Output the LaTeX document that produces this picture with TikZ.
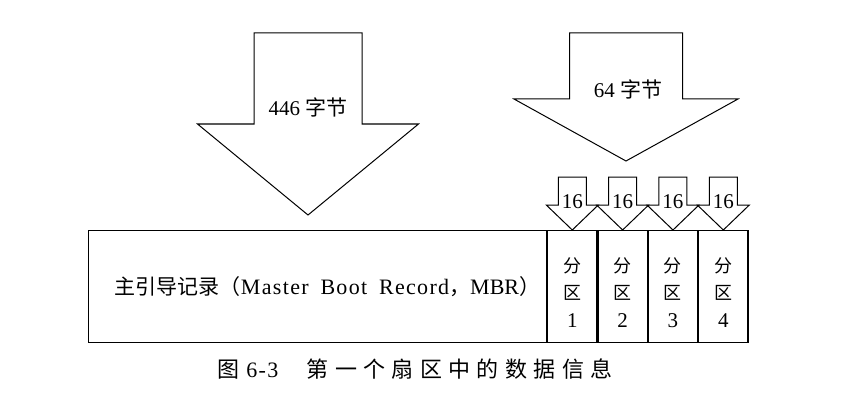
\documentclass[tikz,border=0pt]{standalone}
\usepackage{fontspec}
\setmainfont{Liberation Serif}
\newfontfamily\cjk{Noto Sans CJK SC}
\newfontfamily\cjkwide{Noto Sans CJK SC}[LetterSpace=29]
\newfontfamily\latinwide{Liberation Serif}[LetterSpace=6]
\usetikzlibrary{positioning}

\begin{document}
\begin{tikzpicture}[x=1pt, y=-1pt, line join=miter]
  % Styles
  \tikzstyle{cell}=[draw=black, line width=1.1pt, inner sep=0pt, minimum height=112pt, align=center]
  \tikzstyle{blockarrow}=[draw=black, line width=1pt]
  \tikzset{arrowtext/.style={font=\fontsize{21}{21}\selectfont, inner sep=0pt}}
  \tikzset{parttext/.style={font=\fontsize{18}{27.5}\selectfont}}

  \useasboundingbox (0,0) rectangle (863,404);

  % --- Nodes ---
  \node[cell, minimum width=458pt, anchor=north west, font=\fontsize{21}{21}\selectfont] (mbr) at (88,230)
    {\hspace{20pt}{\cjk 主引导记录（}{\fontsize{22}{22}\selectfont\latinwide Master\hspace{5pt} Boot\hspace{5pt} Record}{\cjk ，}{\fontsize{22}{22}\selectfont MBR}{\cjk ）}};
  \node[cell, parttext, minimum width=49.25pt, right=0pt of mbr] (part1) {\\[-1pt]{\cjk 分}\\{\cjk 区}\\{\fontsize{21}{21}\selectfont 1}};
  \node[cell, parttext, minimum width=49.25pt, right=0pt of part1] (part2) {\\[-1pt]{\cjk 分}\\{\cjk 区}\\{\fontsize{21}{21}\selectfont 2}};
  \node[cell, parttext, minimum width=49.25pt, right=0pt of part2] (part3) {\\[-1pt]{\cjk 分}\\{\cjk 区}\\{\fontsize{21}{21}\selectfont 3}};
  \node[cell, parttext, minimum width=49.25pt, right=0pt of part3] (part4) {\\[-1pt]{\cjk 分}\\{\cjk 区}\\{\fontsize{21}{21}\selectfont 4}};

  % Big arrows
  \coordinate (tip446) at (308,215);
  \coordinate (tip64) at (626,161);
  \draw[blockarrow] (tip446) -- ++(-110.5,-91) -- ++(56.5,0) -- ++(0,-91) -- ++(108,0) -- ++(0,91) -- ++(56.5,0) -- cycle;
  \draw[blockarrow] (tip64) -- ++(-112,-62) -- ++(55.5,0) -- ++(0,-66) -- ++(113,0) -- ++(0,66) -- ++(55.5,0) -- cycle;
  \node[arrowtext] (bytes446) at (308,107) {446 {\cjk 字节}};
  \node[arrowtext] (bytes64) at (628,89) {64 {\cjk 字节}};

  % Small arrows, one per partition entry
  \foreach \i in {1,...,4} {
    \draw[blockarrow] (part\i.north) -- ++(-26,-25) -- ++(12,0) -- ++(0,-28) -- ++(28,0) -- ++(0,28) -- ++(12,0) -- cycle;
    \path (part\i.north) ++(0,-28) node[arrowtext] (bytes16\i) {16};
  }

  % Caption
  \node[font=\fontsize{22}{22}\selectfont] (caption) at (415,369)
    {{\cjkwide 图}{\latinwide\ 6-3}{\cjkwide 　第一个扇区中的数据信息}};
\end{tikzpicture}
\end{document}
